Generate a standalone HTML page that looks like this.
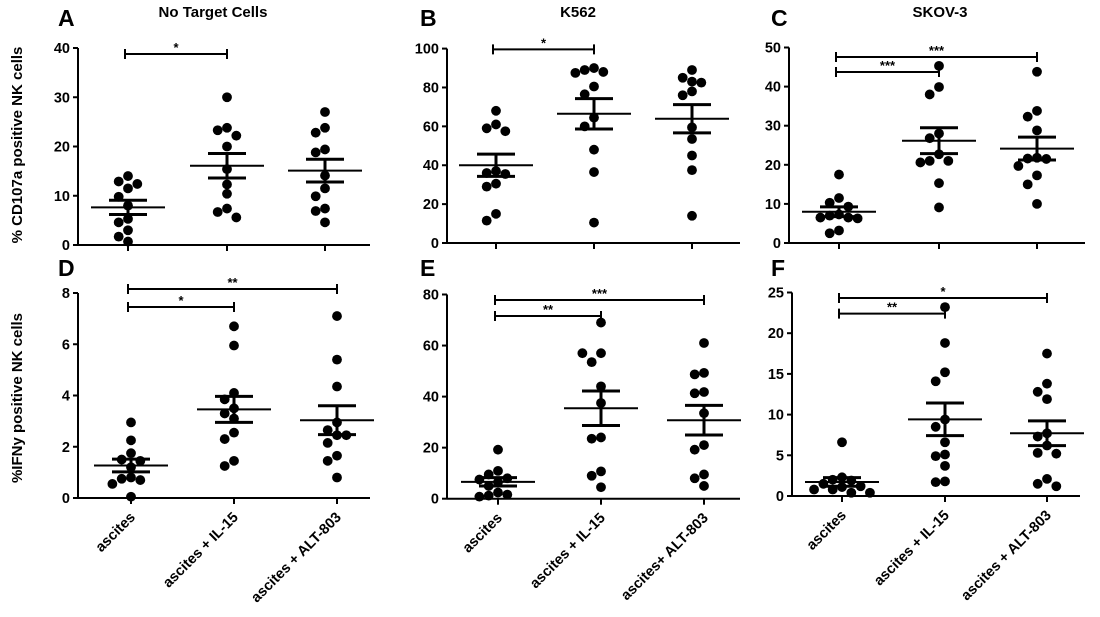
<!DOCTYPE html>
<html><head><meta charset="utf-8"><style>
body{margin:0;background:#fff;}
svg text{font-family:"Liberation Sans",sans-serif;font-weight:bold;fill:#000;}
</style></head><body>
<svg id="fig" width="1100" height="612" xmlns="http://www.w3.org/2000/svg"></svg>
<script>
const categoriesTop=["ascites","ascites + IL-15","ascites + ALT-803"];
const categoriesE=["ascites","ascites + IL-15","ascites+ ALT-803"];
const A_vals=[[14,12.4,11.5,12.9,9.8,8,5.3,4.6,3,1.7,0.7],[30,23.8,23.3,22.2,20,15.4,12.3,10.4,7.4,6.7,5.6],[27,23.8,22.8,19.4,18.8,14.1,11.5,9.9,7.4,6.9,4.6]];
const B_vals=[[68,61,59,57.5,37,36,35.5,30.5,29,15,11.5],[90,89,88,87.5,80.5,76.5,64.5,60,48,36.5,10.5],[89,85,83,82.5,78,76,59.5,53.5,45,37.5,14]];
const C_vals=[[17.5,11.5,10.3,9.3,7.3,7,6.5,6.5,6.3,3.2,2.5],[45.3,39.9,38,28,26.8,22.7,21,21,20.6,15.3,9.1],[43.8,33.8,32.3,28.8,21.8,21.6,21.5,19.7,17.3,15,10]];
const D_vals=[[2.95,2.25,1.75,1.5,1.45,1.2,0.8,0.75,0.7,0.55,0.05],[6.7,5.95,4.1,3.85,3.5,3.3,3.1,2.55,2.3,1.45,1.25],[7.1,5.4,4.35,2.95,2.65,2.45,2.45,2.15,1.65,1.45,0.8]];
const E_vals=[[19.2,10.9,9.5,8,7.5,6.5,5,2.4,1.6,1.2,0.8],[69,57,57,53.5,44,37.5,24,23.5,10.7,9,4.5],[61,49.3,48.7,41.8,41.3,33.5,21,19.2,9.5,8,5]];
const F_vals=[[6.6,2.3,2,1.9,1.5,1.2,1.1,0.8,0.8,0.4,0.4],[23.2,18.8,15.2,14.1,9.4,8.5,6.6,5.1,4.9,3.7,1.8,1.7],[17.5,13.8,12.8,11.9,7.7,7.3,6.2,5.3,5.2,2.1,1.5,1.2]];
const A_ticks=[0,10,20,30,40],B_ticks=[0,20,40,60,80,100],C_ticks=[0,10,20,30,40,50];
const D_ticks=[0,2,4,6,8],E_ticks=[0,20,40,60,80],F_ticks=[0,5,10,15,20,25];
const A_sig=[["*",0,1]],B_sig=[["*",0,1]],C_sig=[["***",0,2],["***",0,1]];
const D_sig=[["**",0,2],["*",0,1]],E_sig=[["***",0,2],["**",0,1]],F_sig=[["*",0,2],["**",0,1]];

const NS="http://www.w3.org/2000/svg",svg=document.getElementById('fig');
function el(tag,attrs,parent,txt){const e=document.createElementNS(NS,tag);for(const k in attrs)e.setAttribute(k,attrs[k]);if(txt!==undefined)e.textContent=txt;(parent||svg).appendChild(e);return e;}

const panels=[
 {id:'a',letter:'A',lx:58,ly:26,title:'No Target Cells',tx:213,vals:A_vals,ticks:A_ticks,sig:A_sig,ax:78,x1:370,y0:245,ytop:48,cats:[128,227,325],brk:[54],ylab:'% CD107a positive NK cells',ylx:22,yly:145},
 {id:'b',letter:'B',lx:420,ly:26,title:'K562',tx:578,vals:B_vals,ticks:B_ticks,sig:B_sig,ax:447,x1:740,y0:243,ytop:48.6,cats:[496,594,692],brk:[49.4]},
 {id:'c',letter:'C',lx:771,ly:26,title:'SKOV-3',tx:940,vals:C_vals,ticks:C_ticks,sig:C_sig,ax:789,x1:1085,y0:243,ytop:47.5,cats:[839,939,1037],brk:[57,72]},
 {id:'d',letter:'D',lx:58,ly:276,vals:D_vals,ticks:D_ticks,sig:D_sig,ax:78,x1:370,y0:498,ytop:293,cats:[131,234,337],brk:[289,307],ylab:'%IFNy positive NK cells',ylx:22,yly:398,xl:categoriesTop},
 {id:'e',letter:'E',lx:420,ly:276,vals:E_vals,ticks:E_ticks,sig:E_sig,ax:447,x1:740,y0:498.7,ytop:294.5,cats:[498,601,704],brk:[300,316],xl:categoriesE},
 {id:'f',letter:'F',lx:771,ly:276,vals:F_vals,ticks:F_ticks,sig:F_sig,ax:792,x1:1080,y0:496,ytop:292.5,cats:[842,945,1047],brk:[298,313.6],xl:categoriesTop}
];
const R=4.9;
panels.forEach(p=>{
 const g=el('g',{});
 
 
 const tmax=p.ticks[p.ticks.length-1];
 const y=v=>p.y0-(v/tmax)*(p.y0-p.ytop);
 const t=el('text',{x:p.lx,y:p.ly,'font-size':23},g,p.letter);
 
 if(p.title){const tt=el('text',{x:p.tx,y:17,'font-size':15,'text-anchor':'middle'},g,p.title);}
 if(p.ylab){const yl=el('text',{x:0,y:0,'font-size':15,'text-anchor':'middle',transform:`translate(${p.ylx},${p.yly}) rotate(-90)`},g,p.ylab);}
 const ya=el('line',{x1:p.ax,y1:p.ytop,x2:p.ax,y2:p.y0,stroke:'#000','stroke-width':2},g);
 
 const xa=el('line',{x1:p.ax,y1:p.y0,x2:p.x1,y2:p.y0,stroke:'#000','stroke-width':2},g);
 
 p.ticks.forEach(tv=>{
  el('line',{x1:p.ax-5,x2:p.ax,y1:y(tv),y2:y(tv),stroke:'#000','stroke-width':2},g);
  const tl=el('text',{x:p.ax-8,y:y(tv)+5,'font-size':14.5,'text-anchor':'end'},g,String(tv));
  
 });
 p.cats.forEach((cx,i)=>{
  el('line',{x1:cx,x2:cx,y1:p.y0,y2:p.y0+6,stroke:'#000','stroke-width':2},g);
  if(p.xl){const xl=el('text',{x:0,y:0,'font-size':14.5,'text-anchor':'end',transform:`translate(${cx+5},${p.y0+20}) rotate(-45)`},g,p.xl[i]);}
 });
 p.vals.forEach((arr,i)=>{
  const cx=p.cats[i];
  const placed=[];
  const sorted=arr.slice().sort((a,b)=>b-a);
  sorted.forEach(v=>{
   const py=y(v);
   const offs=[0,-1,1,-2,2,-3,3,-4,4];
   let px=cx;
   for(const o of offs){const cand=cx+o*R*1.9;if(placed.every(q=>Math.hypot(q[0]-cand,q[1]-py)>=R*1.9)){px=cand;break;}}
   placed.push([px,py]);
   const c=el('circle',{cx:px,cy:py,r:R,fill:'#000'},g);
   
  });
  const n=arr.length,m=arr.reduce((a,b)=>a+b,0)/n;
  const sd=Math.sqrt(arr.reduce((a,b)=>a+(b-m)*(b-m),0)/(n-1)),se=sd/Math.sqrt(n);
  const ml=el('line',{x1:cx-37,x2:cx+37,y1:y(m),y2:y(m),stroke:'#000','stroke-width':2},g);
  
  const eb=el('path',{d:`M${cx},${y(m+se)}V${y(m-se)}M${cx-19},${y(m+se)}H${cx+19}M${cx-19},${y(m-se)}H${cx+19}`,stroke:'#000','stroke-width':3,fill:'none'},g);
  
 });
 p.sig.forEach((s,k)=>{
  const by=p.brk[k],xa_=p.cats[s[1]]-3,xb=p.cats[s[2]];
  const b=el('path',{d:`M${xa_},${by-5}V${by+5}M${xa_},${by}H${xb}M${xb},${by-5}V${by+5}`,stroke:'#000','stroke-width':2,fill:'none'},g);
  
  const st=el('text',{x:(xa_+xb)/2,y:by-2,'font-size':13,'text-anchor':'middle'},g,s[0]);
  
 });
});
</script>
</body></html>
